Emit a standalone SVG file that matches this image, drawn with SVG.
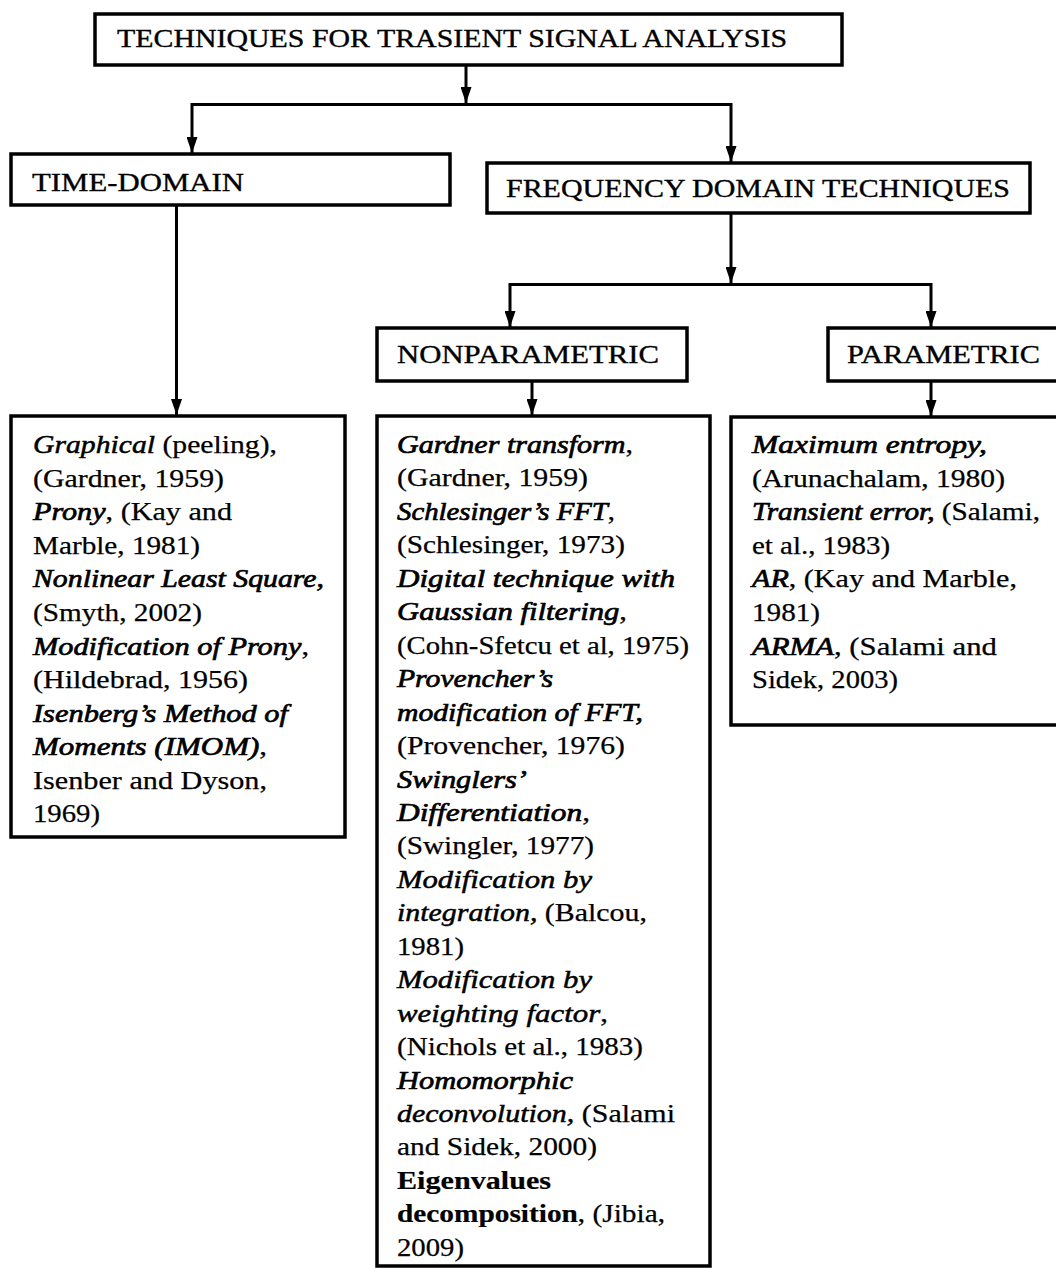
<svg xmlns="http://www.w3.org/2000/svg" width="1056" height="1268" viewBox="0 0 1056 1268">
<defs>
<marker id="arr" markerUnits="userSpaceOnUse" markerWidth="16" markerHeight="11" viewBox="0 0 16 11" refX="16" refY="5.5" orient="auto">
<path d="M0 0 L16 5.5 L0 11 Z" fill="#000"/>
</marker>
</defs>
<style>
.box{fill:#fff;stroke:#000;stroke-width:3.5}
.hd{font-family:"Liberation Serif","Times New Roman",serif;font-size:26px;fill:#000;stroke:#000;stroke-width:0.35}
.tx{font-family:"Liberation Serif","Times New Roman",serif;font-size:26px;fill:#000;stroke:#000;stroke-width:0.25}
.i{font-style:italic;stroke-width:0.5}
.bi{font-style:italic;stroke-width:0.7}
.b{font-weight:bold;stroke-width:0.2}
.cn{fill:none;stroke:#000;stroke-width:3}
</style>
<rect width="1056" height="1268" fill="#fff"/>

<g id="connectors">
<path class="cn" d="M466 65 V103" marker-end="url(#arr)"/>
<path class="cn" d="M466 104.5 H192 V153" marker-end="url(#arr)"/>
<path class="cn" d="M466 104.5 H731 V162" marker-end="url(#arr)"/>
<path class="cn" d="M176.5 205 V415" marker-end="url(#arr)"/>
<path class="cn" d="M731 213 V283" marker-end="url(#arr)"/>
<path class="cn" d="M731 284.5 H510 V327" marker-end="url(#arr)"/>
<path class="cn" d="M731 284.5 H931 V327" marker-end="url(#arr)"/>
<path class="cn" d="M532 381 V415" marker-end="url(#arr)"/>
<path class="cn" d="M931 381 V416" marker-end="url(#arr)"/>
</g>

<g id="root">
<rect class="box" x="95" y="14" width="747" height="51"/>
<text class="hd" x="117" y="47" textLength="670" lengthAdjust="spacingAndGlyphs">TECHNIQUES FOR TRASIENT SIGNAL ANALYSIS</text>
</g>

<g id="time-domain">
<rect class="box" x="11" y="154" width="439" height="51"/>
<text class="hd" x="32" y="191" textLength="212" lengthAdjust="spacingAndGlyphs">TIME-DOMAIN</text>
</g>

<g id="frequency-domain">
<rect class="box" x="487" y="163" width="543" height="50"/>
<text class="hd" x="506" y="197" textLength="504" lengthAdjust="spacingAndGlyphs">FREQUENCY DOMAIN TECHNIQUES</text>
</g>

<g id="nonparametric">
<rect class="box" x="377" y="328" width="310" height="53"/>
<text class="hd" x="397" y="363" textLength="262" lengthAdjust="spacingAndGlyphs">NONPARAMETRIC</text>
</g>

<g id="parametric">
<rect class="box" x="828" y="328" width="240" height="53"/>
<text class="hd" x="847" y="363" textLength="193" lengthAdjust="spacingAndGlyphs">PARAMETRIC</text>
</g>

<g id="time-methods">
<rect class="box" x="11" y="416" width="334" height="421"/>
<text class="tx" x="33" y="453" textLength="244" lengthAdjust="spacingAndGlyphs"><tspan class="i">Graphical</tspan> (peeling),</text>
<text class="tx" x="33" y="486.5" textLength="191" lengthAdjust="spacingAndGlyphs">(Gardner, 1959)</text>
<text class="tx" x="33" y="520" textLength="199" lengthAdjust="spacingAndGlyphs"><tspan class="bi">Prony</tspan>, (Kay and</text>
<text class="tx" x="33" y="553.5" textLength="167" lengthAdjust="spacingAndGlyphs">Marble, 1981)</text>
<text class="tx" x="33" y="587" textLength="291" lengthAdjust="spacingAndGlyphs"><tspan class="bi">Nonlinear Least Square,</tspan></text>
<text class="tx" x="33" y="621" textLength="169" lengthAdjust="spacingAndGlyphs">(Smyth, 2002)</text>
<text class="tx" x="33" y="654.5" textLength="276" lengthAdjust="spacingAndGlyphs"><tspan class="bi">Modification of Prony</tspan>,</text>
<text class="tx" x="33" y="688" textLength="215" lengthAdjust="spacingAndGlyphs">(Hildebrad, 1956)</text>
<text class="tx" x="33" y="721.5" textLength="255" lengthAdjust="spacingAndGlyphs"><tspan class="bi">Isenberg’s Method of</tspan></text>
<text class="tx" x="33" y="755" textLength="234" lengthAdjust="spacingAndGlyphs"><tspan class="bi">Moments (IMOM)</tspan>,</text>
<text class="tx" x="33" y="788.5" textLength="234" lengthAdjust="spacingAndGlyphs">Isenber and Dyson,</text>
<text class="tx" x="33" y="822" textLength="67" lengthAdjust="spacingAndGlyphs">1969)</text>
</g>

<g id="nonparametric-methods">
<rect class="box" x="377" y="416" width="333" height="850"/>
<text class="tx" x="397" y="453" textLength="236" lengthAdjust="spacingAndGlyphs"><tspan class="bi">Gardner transform</tspan>,</text>
<text class="tx" x="397" y="486.4" textLength="191" lengthAdjust="spacingAndGlyphs">(Gardner, 1959)</text>
<text class="tx" x="397" y="519.9" textLength="218" lengthAdjust="spacingAndGlyphs"><tspan class="bi">Schlesinger’s FFT</tspan>,</text>
<text class="tx" x="397" y="553.3" textLength="228" lengthAdjust="spacingAndGlyphs">(Schlesinger, 1973)</text>
<text class="tx" x="397" y="586.8" textLength="278" lengthAdjust="spacingAndGlyphs"><tspan class="bi">Digital technique with</tspan></text>
<text class="tx" x="397" y="620.2" textLength="230" lengthAdjust="spacingAndGlyphs"><tspan class="bi">Gaussian filtering</tspan>,</text>
<text class="tx" x="397" y="653.7" textLength="292" lengthAdjust="spacingAndGlyphs">(Cohn-Sfetcu et al, 1975)</text>
<text class="tx" x="397" y="687.1" textLength="156" lengthAdjust="spacingAndGlyphs"><tspan class="bi">Provencher’s</tspan></text>
<text class="tx" x="397" y="720.6" textLength="246" lengthAdjust="spacingAndGlyphs"><tspan class="bi">modification of FFT,</tspan></text>
<text class="tx" x="397" y="754" textLength="228" lengthAdjust="spacingAndGlyphs">(Provencher, 1976)</text>
<text class="tx" x="397" y="787.5" textLength="130" lengthAdjust="spacingAndGlyphs"><tspan class="bi">Swinglers’</tspan></text>
<text class="tx" x="397" y="820.9" textLength="193" lengthAdjust="spacingAndGlyphs"><tspan class="bi">Differentiation</tspan>,</text>
<text class="tx" x="397" y="854.4" textLength="197" lengthAdjust="spacingAndGlyphs">(Swingler, 1977)</text>
<text class="tx" x="397" y="887.8" textLength="195" lengthAdjust="spacingAndGlyphs"><tspan class="i">Modification by</tspan></text>
<text class="tx" x="397" y="921.3" textLength="250" lengthAdjust="spacingAndGlyphs"><tspan class="i">integration,</tspan> (Balcou,</text>
<text class="tx" x="397" y="954.7" textLength="67" lengthAdjust="spacingAndGlyphs">1981)</text>
<text class="tx" x="397" y="988.2" textLength="195" lengthAdjust="spacingAndGlyphs"><tspan class="i">Modification by</tspan></text>
<text class="tx" x="397" y="1021.6" textLength="211" lengthAdjust="spacingAndGlyphs"><tspan class="i">weighting factor</tspan>,</text>
<text class="tx" x="397" y="1055.1" textLength="246" lengthAdjust="spacingAndGlyphs">(Nichols et al., 1983)</text>
<text class="tx" x="397" y="1088.5" textLength="176" lengthAdjust="spacingAndGlyphs"><tspan class="bi">Homomorphic</tspan></text>
<text class="tx" x="397" y="1122" textLength="278" lengthAdjust="spacingAndGlyphs"><tspan class="i">deconvolution,</tspan> (Salami</text>
<text class="tx" x="397" y="1155.4" textLength="200" lengthAdjust="spacingAndGlyphs">and Sidek, 2000)</text>
<text class="tx" x="397" y="1188.9" textLength="154" lengthAdjust="spacingAndGlyphs"><tspan class="b">Eigenvalues</tspan></text>
<text class="tx" x="397" y="1222.3" textLength="268" lengthAdjust="spacingAndGlyphs"><tspan class="b">decomposition</tspan>, (Jibia,</text>
<text class="tx" x="397" y="1255.8" textLength="67" lengthAdjust="spacingAndGlyphs">2009)</text>
</g>

<g id="parametric-methods">
<rect class="box" x="731" y="417" width="340" height="308"/>
<text class="tx" x="752" y="453" textLength="235" lengthAdjust="spacingAndGlyphs"><tspan class="bi">Maximum entropy,</tspan></text>
<text class="tx" x="752" y="486.6" textLength="253" lengthAdjust="spacingAndGlyphs">(Arunachalam, 1980)</text>
<text class="tx" x="752" y="520.2" textLength="288" lengthAdjust="spacingAndGlyphs"><tspan class="bi">Transient error,</tspan> (Salami,</text>
<text class="tx" x="752" y="553.8" textLength="138" lengthAdjust="spacingAndGlyphs">et al., 1983)</text>
<text class="tx" x="752" y="587.4" textLength="265" lengthAdjust="spacingAndGlyphs"><tspan class="bi">AR</tspan>, (Kay and Marble,</text>
<text class="tx" x="752" y="621" textLength="68" lengthAdjust="spacingAndGlyphs">1981)</text>
<text class="tx" x="752" y="654.6" textLength="245" lengthAdjust="spacingAndGlyphs"><tspan class="bi">ARMA</tspan>, (Salami and</text>
<text class="tx" x="752" y="688.2" textLength="146" lengthAdjust="spacingAndGlyphs">Sidek, 2003)</text>
</g>
</svg>
